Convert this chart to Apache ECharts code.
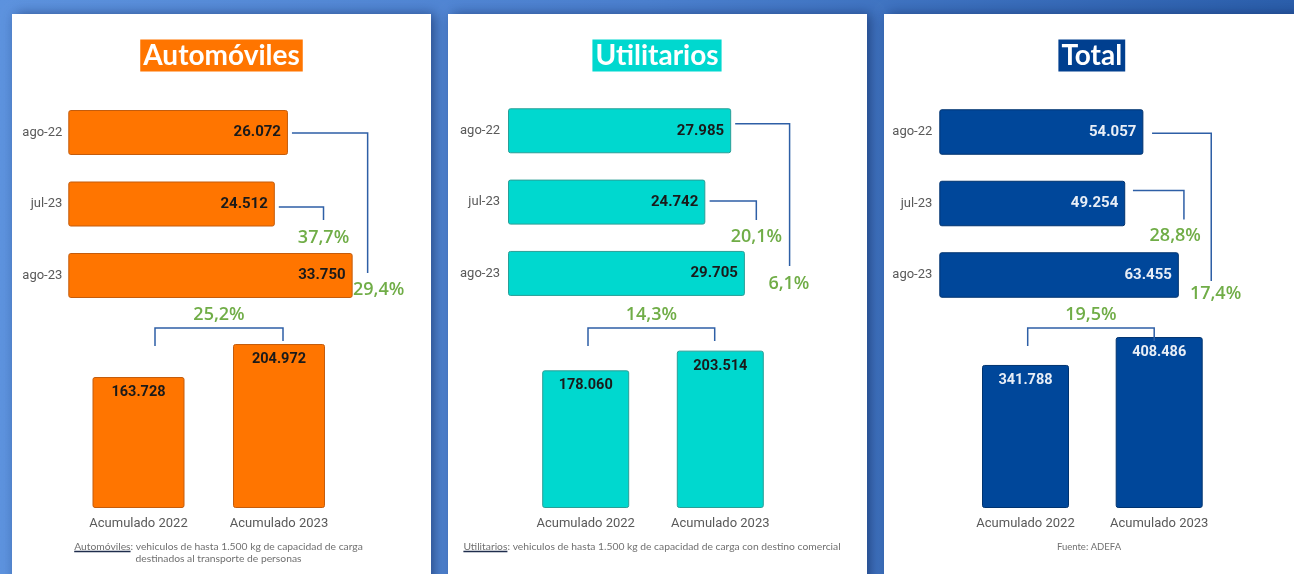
<!DOCTYPE html>
<html><head><meta charset="utf-8">
<script src="https://cdn.jsdelivr.net/npm/echarts@6/dist/echarts.min.js"></script>
<style>html,body{margin:0;padding:0;background:#4a80d0;}#c{width:1294px;height:574px;}</style>
</head><body><div id="c"></div>
<script>
// ---------- DATA ----------
const panelTitles = ['Automóviles', 'Utilitarios', 'Total'];
const monthCats = ['ago-22', 'jul-23', 'ago-23'];
const autoMonthly = [26072, 24512, 33750];
const utilMonthly = [27985, 24742, 29705];
const totalMonthly = [54057, 49254, 63455];
const accCats = ['Acumulado 2022', 'Acumulado 2023'];
const autoAcc = [163728, 204972];
const utilAcc = [178060, 203514];
const totalAcc = [341788, 408486];
// variations: [jul-23 -> ago-23, ago-22 -> ago-23, acumulado 2022 -> 2023]
const autoPct = ['37,7%', '29,4%', '25,2%'];
const utilPct = ['20,1%', '6,1%', '14,3%'];
const totalPct = ['28,8%', '17,4%', '19,5%'];
const noteAuto = ['Automóviles', ': vehiculos de hasta 1.500 kg de capacidad de carga', 'destinados al transporte de personas'];
const noteUtil = ['Utilitarios', ': vehiculos de hasta 1.500 kg de capacidad de carga con destino comercial'];
const noteTotal = ['', 'Fuente: ADEFA'];

// ---------- LAYOUT / STYLE ----------
const W = 1294, H = 574;
const panels = [
  { title: panelTitles[0], monthly: autoMonthly, acc: autoAcc, pct: autoPct, note: noteAuto,
    px: 12, cx: 221.5, noteX: 218.5,
    hLeft: 68.3, hWidth: 337, hMax: 40000, hTop: 96.75, hH: 214.5, hBar: 45, catMargin: 6,
    vLeft: 68.25, vWidth: 281, vMax: 260000, vBar: 92,
    fill: '#FF7500', stroke: '#c45c0c', titleBg: '#FF7500', valColor: '#1a1a1a',
    jul: { gap: 4, dy: 3, vx: 48.7, down: 16, lx: 0, ly: 34 },
    ago: { gap: 4, dy: 0.5, vx: 15, down: -2.5, lx: 11, ly: 14.5 },
    accB: { l: 16.5, r: 4 } },
  { title: panelTitles[1], monthly: utilMonthly, acc: utilAcc, pct: utilPct, note: noteUtil,
    px: 448, cx: 657, noteX: 652,
    hLeft: 508, hWidth: 319, hMax: 40000, hTop: 95.1, hH: 214, hBar: 45, catMargin: 8,
    vLeft: 518.4, vWidth: 269.2, vMax: 269000, vBar: 87,
    fill: '#00D8CF', stroke: '#2a9e96', titleBg: '#00D8CF', valColor: '#1a1a1a',
    jul: { gap: 4.3, dy: -1, vx: 51, down: 18, lx: 0, ly: 35.2 },
    ago: { gap: 4, dy: -7, vx: 44.7, down: -7.5, lx: -0.7, ly: 10.2 },
    accB: { l: 2.3, r: -5.6 } },
  { title: panelTitles[2], monthly: totalMonthly, acc: totalAcc, pct: totalPct, note: noteTotal,
    px: 884, cx: 1091.8, noteX: 1089,
    hLeft: 939.3, hWidth: 302, hMax: 80000, hTop: 96.25, hH: 214.5, hBar: 45.5, catMargin: 7,
    vLeft: 958.65, vWidth: 267.4, vMax: 497000, vBar: 87,
    fill: '#00479A', stroke: '#00336f', titleBg: '#003F8F', valColor: '#e8eef6',
    jul: { gap: 7.7, dy: -13, vx: 58.7, down: 16, lx: -8.7, ly: 32 },
    ago: { gap: 8.7, dy: 1.3, vx: 32.4, down: 6, lx: 4.3, ly: 19 },
    accB: { l: 2.2, r: -5 } }
];
const V_TOP = 300, V_H = 208;
const bracketColor = '#2e5fa6';
const pctColor = '#70AD47';
const pctFont = '600 18px "Open Sans"';
const fmt = v => String(v).replace(/\B(?=(\d{3})+(?!\d))/g, '.');

const grids = [], xAxes = [], yAxes = [], series = [], graphics = [];

graphics.push({ type: 'rect', z: -20, silent: true, shape: { x: 0, y: 0, width: W, height: H },
  style: { fill: new echarts.graphic.LinearGradient(0, 0, 1, 0, [
    { offset: 0, color: '#5c92de' }, { offset: 0.5, color: '#4a7fce' }, { offset: 1, color: '#2a5eab' }]) } });

const mctx = document.createElement('canvas').getContext('2d');
const noteFont = '10.3px Lato';
const srcFont = '9.5px Lato';
mctx.font = noteFont;

panels.forEach((p, i) => {
  graphics.push({ type: 'rect', z: -10, silent: true,
    shape: { x: p.px, y: 14, width: 419, height: 600 },
    style: { fill: '#ffffff', shadowBlur: 12, shadowOffsetX: 4, shadowColor: 'rgba(10,30,80,0.55)' } });
  graphics.push({ type: 'text', z: 10, silent: true, x: p.cx, y: 55.5,
    style: { text: p.title, font: 'bold 28px Lato', fill: '#ffffff', backgroundColor: p.titleBg,
      padding: [2, 3, 2, 3], align: 'center', verticalAlign: 'middle' } });
  // footnote
  if (p.note[0]) {
    const line1 = p.note[0] + p.note[1];
    const w1 = mctx.measureText(line1).width;
    const w0 = mctx.measureText(p.note[0]).width;
    const x0 = p.noteX - w1 / 2;
    graphics.push({ type: 'text', z: 10, silent: true, x: p.noteX, y: 547,
      style: { text: line1, font: noteFont, fill: '#707070', align: 'center', verticalAlign: 'middle' } });
    graphics.push({ type: 'line', z: 10, silent: true, shape: { x1: x0, y1: 551.5, x2: x0 + w0, y2: 551.5 },
      style: { stroke: '#1f2d4d', lineWidth: 1.5 } });
    if (p.note[2]) graphics.push({ type: 'text', z: 10, silent: true, x: p.noteX, y: 559,
      style: { text: p.note[2], font: noteFont, fill: '#707070', align: 'center', verticalAlign: 'middle' } });
  } else {
    graphics.push({ type: 'text', z: 10, silent: true, x: p.noteX, y: 547,
      style: { text: p.note[1], font: srcFont, fill: '#707070', align: 'center', verticalAlign: 'middle' } });
  }

  // horizontal grid
  const hg = grids.length;
  grids.push({ left: p.hLeft, top: p.hTop, width: p.hWidth, height: p.hH });
  xAxes.push({ gridIndex: hg, type: 'value', min: 0, max: p.hMax, show: false });
  yAxes.push({ gridIndex: hg, type: 'category', data: monthCats, inverse: true,
    axisLine: { show: false }, axisTick: { show: false },
    axisLabel: { margin: p.catMargin, color: '#595959', fontSize: 13, fontFamily: 'Roboto' } });
  series.push({ type: 'bar', xAxisIndex: hg, yAxisIndex: hg, data: p.monthly, barWidth: p.hBar,
    silent: true, animation: false,
    itemStyle: { color: p.fill, borderColor: p.stroke, borderWidth: 1, borderRadius: 2 },
    label: { show: true, position: 'insideRight', distance: 7, formatter: d => fmt(d.value),
      color: p.valColor, fontSize: 15, fontWeight: 'bold', fontFamily: 'Roboto' } });
  series.push({ type: 'custom', xAxisIndex: hg, yAxisIndex: hg, data: [[0, 0]], silent: true,
    animation: false, clip: false, z: 5,
    renderItem: (params, api) => {
      const e0 = api.coord([p.monthly[0], 0]);
      const e1 = api.coord([p.monthly[1], 1]);
      const e2 = api.coord([p.monthly[2], 2]);
      const jx = e1[0] + p.jul.vx, jy = e1[1] + p.jul.dy;
      const ax = e2[0] + p.ago.vx, ay = e0[1] + p.ago.dy;
      const ls = { stroke: bracketColor, lineWidth: 1.5, fill: null };
      return { type: 'group', children: [
        { type: 'polyline', shape: { points: [[e1[0] + p.jul.gap, jy], [jx, jy], [jx, e1[1] + p.jul.down]] }, style: ls },
        { type: 'polyline', shape: { points: [[e0[0] + p.ago.gap, ay], [ax, ay], [ax, e2[1] + p.ago.down]] }, style: ls },
        { type: 'text', x: jx + p.jul.lx, y: e1[1] + p.jul.ly,
          style: { text: p.pct[0], font: pctFont, fill: pctColor, align: 'center', verticalAlign: 'middle' } },
        { type: 'text', x: ax + p.ago.lx, y: e2[1] + p.ago.ly,
          style: { text: p.pct[1], font: pctFont, fill: pctColor, align: 'center', verticalAlign: 'middle' } }
      ] };
    } });

  // vertical grid
  const vg = grids.length;
  grids.push({ left: p.vLeft, top: V_TOP, width: p.vWidth, height: V_H });
  xAxes.push({ gridIndex: vg, type: 'category', data: accCats,
    axisLine: { show: false }, axisTick: { show: false },
    axisLabel: { margin: 9, color: '#595959', fontSize: 13, fontFamily: 'Roboto' } });
  yAxes.push({ gridIndex: vg, type: 'value', min: 0, max: p.vMax, show: false });
  series.push({ type: 'bar', xAxisIndex: vg, yAxisIndex: vg, data: p.acc, barWidth: p.vBar,
    silent: true, animation: false,
    itemStyle: { color: p.fill, borderColor: p.stroke, borderWidth: 1, borderRadius: 2 },
    label: { show: true, position: 'insideTop', distance: 8, formatter: d => fmt(d.value),
      color: p.valColor, fontSize: 14.5, fontWeight: 'bold', fontFamily: 'Roboto' } });
  series.push({ type: 'custom', xAxisIndex: vg, yAxisIndex: vg, data: [[0, 0]], silent: true,
    animation: false, clip: false, z: 5,
    renderItem: (params, api) => {
      const b0 = api.coord([0, p.acc[0]]);
      const b1 = api.coord([1, p.acc[1]]);
      const lx = b0[0] + p.accB.l, rx = b1[0] + p.accB.r;
      const ty = V_TOP + 28;
      return { type: 'group', children: [
        { type: 'polyline', shape: { points: [[lx, V_TOP + 46], [lx, ty], [rx, ty], [rx, V_TOP + 41]] },
          style: { stroke: bracketColor, lineWidth: 1.5, fill: null } },
        { type: 'text', x: (lx + rx) / 2, y: V_TOP + 15,
          style: { text: p.pct[2], font: pctFont, fill: pctColor, align: 'center', verticalAlign: 'middle' } }
      ] };
    } });
});

const chart = echarts.init(document.getElementById('c'));
chart.setOption({
  animation: false,
  grid: grids, xAxis: xAxes, yAxis: yAxes, series: series,
  graphic: { elements: graphics }
});
</script></body></html>
